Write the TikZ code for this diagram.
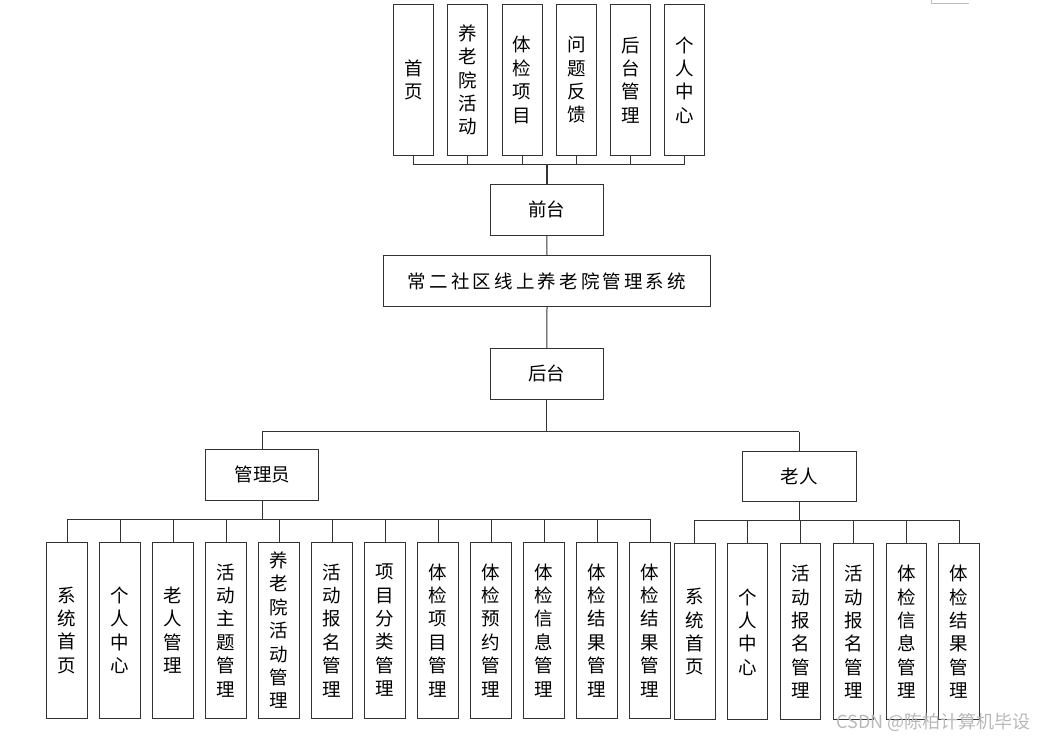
\documentclass[tikz,border=0pt]{standalone}
\usepackage{fontspec}
\setmainfont{Noto Sans CJK SC}
\newfontfamily\cjkwide[LetterSpace=17]{Noto Sans CJK SC}
\begin{document}
\begin{tikzpicture}[x=1pt,y=-1pt,
  box/.style={draw=black!80,line width=1pt,inner sep=0pt,align=center,font=\fontsize{18.5}{23.4}\selectfont},
  vbox/.style={box,minimum width=40.5pt,minimum height=176pt},
  tbox/.style={box,minimum width=40pt,minimum height=151.4pt},
  hbox/.style={box,minimum width=113pt,minimum height=50.7pt},
  wire/.style={draw=black!80,line width=1pt}]
\useasboundingbox (0,0) rectangle (1043,741);
% faint corner fragment
\draw[black!25,line width=0.8pt] (931,0) -- (931,3) -- (968.7,3);
% top-level front-end boxes
\node[tbox] (t1) at (413.3,80) {首\\页};
\node[tbox] (t2) at (467.7,80) {养\\老\\院\\活\\动};
\node[tbox] (t3) at (522,80) {体\\检\\项\\目};
\node[tbox] (t4) at (576.3,80) {问\\题\\反\\馈};
\node[tbox] (t5) at (630.3,80) {后\\台\\管\\理};
\node[tbox] (t6) at (684.3,80) {个\\人\\中\\心};
\node[hbox] (front) at (546.8,209.7) {前台};
\node[box,minimum width=327.4pt,minimum height=50.7pt,font=\fontsize{18.5}{22}\cjkwide] (main) at (547,281.3) {常二社区线上养老院管理系统};
\node[hbox] (back) at (546.8,373.7) {后台};
\node[box,minimum width=113.3pt,minimum height=50.7pt] (admin) at (262.3,474.7) {管理员};
\node[box,minimum width=113.7pt,minimum height=50.3pt] (elder) at (799.2,476.2) {老人};
% admin children
\node[vbox] (a1) at (67,630.3) {系\\统\\首\\页};
\node[vbox] (a2) at (120,630.3) {个\\人\\中\\心};
\node[vbox] (a3) at (173,630.3) {老\\人\\管\\理};
\node[vbox] (a4) at (226,630.3) {活\\动\\主\\题\\管\\理};
\node[vbox] (a5) at (279,630.3) {养\\老\\院\\活\\动\\管\\理};
\node[vbox] (a6) at (332,630.3) {活\\动\\报\\名\\管\\理};
\node[vbox] (a7) at (385,630.3) {项\\目\\分\\类\\管\\理};
\node[vbox] (a8) at (438,630.3) {体\\检\\项\\目\\管\\理};
\node[vbox] (a9) at (491,630.3) {体\\检\\预\\约\\管\\理};
\node[vbox] (a10) at (544,630.3) {体\\检\\信\\息\\管\\理};
\node[vbox] (a11) at (597,630.3) {体\\检\\结\\果\\管\\理};
\node[vbox] (a12) at (650,630.3) {体\\检\\结\\果\\管\\理};
% elder children
\node[vbox] (e1) at (694.9,631.9) {系\\统\\首\\页};
\node[vbox] (e2) at (747.7,631.9) {个\\人\\中\\心};
\node[vbox] (e3) at (800.6,631.9) {活\\动\\报\\名\\管\\理};
\node[vbox] (e4) at (853.5,631.9) {活\\动\\报\\名\\管\\理};
\node[vbox] (e5) at (906.5,631.9) {体\\检\\信\\息\\管\\理};
\node[vbox] (e6) at (959.2,631.9) {体\\检\\结\\果\\管\\理};
% bus coordinates
\coordinate (tb) at (546.8,164.7);
\coordinate (mb) at (546.8,431.5);
\coordinate (ab) at (262.3,519);
\coordinate (eb) at (799.2,520.3);
% top bus
\foreach \i in {1,...,6} \draw[wire] (t\i.south) -- (t\i.south |- tb);
\draw[wire] (t1.south |- tb) -- (t6.south |- tb);
\draw[wire,line width=1.6pt] (tb) -- (front.north);
\draw[wire] (front.south) -- (main.north);
\draw[wire] (main.south) -- (back.north);
\draw[wire] (back.south) -- (mb);
\draw[wire] (admin.north |- mb) -- (elder.north |- mb);
\draw[wire] (admin.north |- mb) -- (admin.north);
\draw[wire] (elder.north |- mb) -- (elder.north);
% admin bus
\draw[wire] (admin.south) -- (ab);
\draw[wire] (a1.north |- ab) -- (a12.north |- ab);
\foreach \i in {1,...,12} \draw[wire] (a\i.north |- ab) -- (a\i.north);
% elder bus
\draw[wire] (elder.south) -- (eb);
\draw[wire] (e1.north |- eb) -- (e6.north |- eb);
\foreach \i in {1,...,6} \draw[wire] (e\i.north |- eb) -- (e\i.north);
% watermark
\node[font=\fontsize{18}{18}\selectfont,text=black!28,inner sep=0pt] (wm) at (933.5,722) {CSDN @陈柏计算机毕设};
\end{tikzpicture}
\end{document}
